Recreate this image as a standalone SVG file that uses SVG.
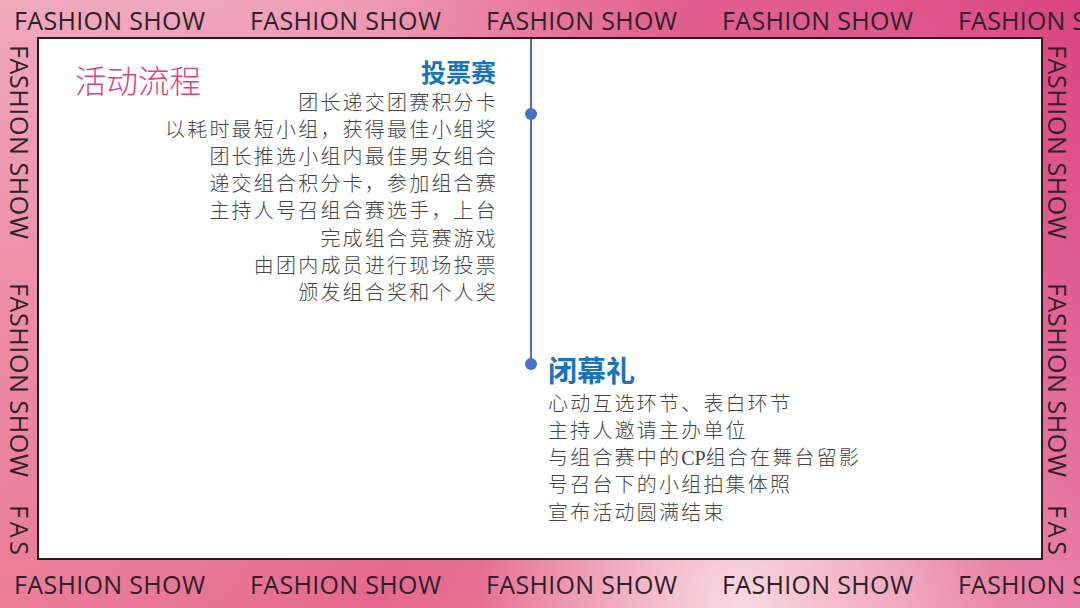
<svg xmlns="http://www.w3.org/2000/svg" width="1080" height="608" viewBox="0 0 1080 608">
<defs>
<linearGradient id="bgA" gradientUnits="userSpaceOnUse" x1="0" y1="0" x2="1080" y2="608">
<stop offset="0" stop-color="#f7d0dc"/>
<stop offset="0.5" stop-color="#e66a92"/>
<stop offset="1" stop-color="#f3b0c4"/>
</linearGradient>
<linearGradient id="bgB" gradientUnits="userSpaceOnUse" x1="1080" y1="0" x2="0" y2="608">
<stop offset="0" stop-color="#d83a7c" stop-opacity="0.9"/>
<stop offset="0.5" stop-color="#e05a8a" stop-opacity="0"/>
<stop offset="1" stop-color="#ea6d88" stop-opacity="0.7"/>
</linearGradient>
<radialGradient id="bgC" gradientUnits="userSpaceOnUse" cx="740" cy="600" r="260">
<stop offset="0" stop-color="#fbe0e8" stop-opacity="0.9"/>
<stop offset="1" stop-color="#fbe0e8" stop-opacity="0"/>
</radialGradient>
<clipPath id="page"><rect x="0" y="0" width="1080" height="608"/></clipPath>
<style>
.fs{font-family:"Open Sans","DejaVu Sans",sans-serif;font-size:25px;fill:#2d2228;font-weight:500}
.item{font-family:"Noto Sans CJK SC","Noto Sans CJK JP",sans-serif;font-size:20px;fill:#454545;letter-spacing:2.2px;font-weight:300}
.head{font-family:"Noto Sans CJK SC",sans-serif;font-weight:700;fill:#1a74bb}
</style>
</defs>
<g id="background">
<rect x="0" y="0" width="1080" height="608" fill="url(#bgA)"/>
<rect x="0" y="0" width="1080" height="608" fill="url(#bgB)"/>
<rect x="0" y="0" width="1080" height="608" fill="url(#bgC)"/>
</g>
<g id="border-text" clip-path="url(#page)">
<text class="fs" x="14" y="30" textLength="191" lengthAdjust="spacing">FASHION SHOW</text>
<text class="fs" x="250" y="30" textLength="191" lengthAdjust="spacing">FASHION SHOW</text>
<text class="fs" x="486" y="30" textLength="191" lengthAdjust="spacing">FASHION SHOW</text>
<text class="fs" x="722" y="30" textLength="191" lengthAdjust="spacing">FASHION SHOW</text>
<text class="fs" x="958" y="30" textLength="128" lengthAdjust="spacing">FASHION S</text>
<text class="fs" x="14" y="594" textLength="191" lengthAdjust="spacing">FASHION SHOW</text>
<text class="fs" x="250" y="594" textLength="191" lengthAdjust="spacing">FASHION SHOW</text>
<text class="fs" x="486" y="594" textLength="191" lengthAdjust="spacing">FASHION SHOW</text>
<text class="fs" x="722" y="594" textLength="191" lengthAdjust="spacing">FASHION SHOW</text>
<text class="fs" x="958" y="594" textLength="128" lengthAdjust="spacing">FASHION S</text>
<text class="fs" transform="translate(10,45) rotate(90)" x="0" y="0" textLength="194" lengthAdjust="spacing">FASHION SHOW</text>
<text class="fs" transform="translate(10,283) rotate(90)" x="0" y="0" textLength="194" lengthAdjust="spacing">FASHION SHOW</text>
<text class="fs" transform="translate(10,505) rotate(90)" x="0" y="0" textLength="50" lengthAdjust="spacing">FAS</text>
<text class="fs" transform="translate(1048,45) rotate(90)" x="0" y="0" textLength="194" lengthAdjust="spacing">FASHION SHOW</text>
<text class="fs" transform="translate(1048,283) rotate(90)" x="0" y="0" textLength="194" lengthAdjust="spacing">FASHION SHOW</text>
<text class="fs" transform="translate(1048,505) rotate(90)" x="0" y="0" textLength="50" lengthAdjust="spacing">FAS</text>
</g>
<g id="panel">
<rect x="38" y="38" width="1004" height="521" fill="#ffffff" stroke="#2a1a20" stroke-width="2"/>
</g>
<g id="connectors">
<line x1="531" y1="39" x2="531" y2="364" stroke="#4472c4" stroke-width="2"/>
<circle cx="531" cy="114" r="6" fill="#4472c4"/>
<circle cx="531" cy="364" r="6" fill="#4472c4"/>
</g>
<g id="title">
<text x="75" y="93" font-family="Noto Sans CJK SC,sans-serif" font-size="31.5" font-weight="300" fill="#d9457f">活动流程</text>
</g>
<g id="voting">
<text class="head" x="496" y="82" font-size="25" text-anchor="end">投票赛</text>
<text class="item" x="498" y="110" text-anchor="end">团长递交团赛积分卡</text>
<text class="item" x="498" y="137" text-anchor="end">以耗时最短小组，获得最佳小组奖</text>
<text class="item" x="498" y="164" text-anchor="end">团长推选小组内最佳男女组合</text>
<text class="item" x="498" y="191" text-anchor="end">递交组合积分卡，参加组合赛</text>
<text class="item" x="498" y="218" text-anchor="end">主持人号召组合赛选手，上台</text>
<text class="item" x="498" y="246" text-anchor="end">完成组合竞赛游戏</text>
<text class="item" x="498" y="273" text-anchor="end">由团内成员进行现场投票</text>
<text class="item" x="498" y="300" text-anchor="end">颁发组合奖和个人奖</text>
</g>
<g id="closing">
<text class="head" x="548" y="382" font-size="29">闭幕礼</text>
<text class="item" x="548" y="411">心动互选环节、表白环节</text>
<text class="item" x="548" y="438">主持人邀请主办单位</text>
<text class="item" x="548" y="465">与组合赛中的<tspan font-family="Liberation Serif,serif" letter-spacing="0">CP</tspan>组合在舞台留影</text>
<text class="item" x="548" y="492">号召台下的小组拍集体照</text>
<text class="item" x="548" y="520">宣布活动圆满结束</text>
</g>
</svg>
